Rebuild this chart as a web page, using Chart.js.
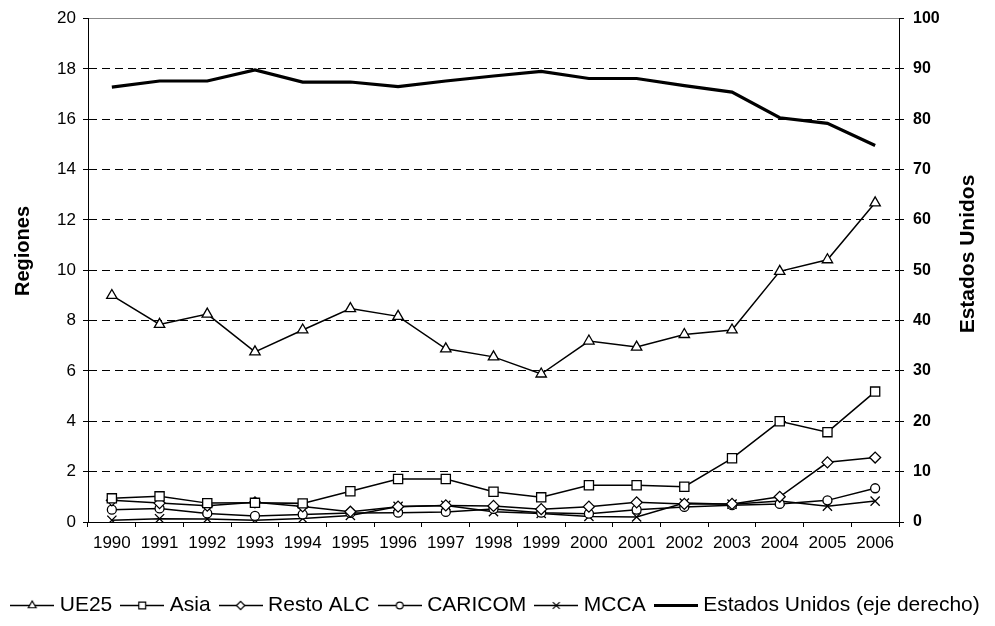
<!DOCTYPE html>
<html>
<head>
<meta charset="utf-8">
<script src="https://cdn.jsdelivr.net/npm/chart.js@4.4.1/dist/chart.umd.min.js"></script>
<style>
  html, body { margin: 0; padding: 0; background: #fff; }
  #wrap { width: 995px; height: 626px; }
</style>
</head>
<body>
<div id="wrap"><canvas id="grafico"></canvas></div>
<script>
// datos
const anios = ['1990', '1991', '1992', '1993', '1994', '1995', '1996', '1997', '1998',
               '1999', '2000', '2001', '2002', '2003', '2004', '2005', '2006'];
const ue25 = [9.0, 7.85, 8.26, 6.76, 7.63, 8.48, 8.17, 6.88, 6.56, 5.88, 7.19, 6.95, 7.45, 7.63, 9.96, 10.42, 12.68];
const asia = [0.94, 1.02, 0.75, 0.76, 0.74, 1.22, 1.71, 1.71, 1.2, 0.98, 1.46, 1.46, 1.4, 2.53, 4.0, 3.57, 5.18];
const restoALC = [0.86, 0.75, 0.65, 0.78, 0.62, 0.41, 0.61, 0.66, 0.64, 0.51, 0.61, 0.78, 0.72, 0.72, 1.0, 2.37, 2.56];
const caricom = [0.49, 0.54, 0.34, 0.24, 0.3, 0.36, 0.37, 0.4, 0.52, 0.37, 0.33, 0.49, 0.6, 0.67, 0.72, 0.86, 1.34];
const mcca = [0.07, 0.13, 0.12, 0.07, 0.14, 0.26, 0.62, 0.66, 0.41, 0.34, 0.22, 0.2, 0.75, 0.71, 0.83, 0.63, 0.83];
const estadosUnidos = [86.4, 87.6, 87.6, 89.8, 87.4, 87.4, 86.5, 87.6, 88.6, 89.5, 88.1, 88.1, 86.7, 85.4, 80.3, 79.2, 74.8];

const tituloIzq = 'Regiones';
const tituloDer = 'Estados Unidos';

Chart.defaults.font.family = '"Liberation Sans", Arial, sans-serif';
Chart.defaults.color = '#000';

// icono de leyenda: linea con marcador
function iconoLeyenda(estilo, radio, grosor) {
    const c = document.createElement('canvas');
    c.width = 44;
    c.height = 17;
    const ctx = c.getContext('2d');
    ctx.strokeStyle = '#000';
    ctx.lineWidth = grosor;
    ctx.beginPath();
    ctx.moveTo(0, 8.5);
    ctx.lineTo(44, 8.5);
    ctx.stroke();
    if (estilo) {
        ctx.fillStyle = '#fff';
        ctx.lineWidth = 1.2;
        Chart.helpers.drawPoint(ctx, { pointStyle: estilo, radius: radio, rotation: 0, borderWidth: 1.2 }, 22, 8.5);
    }
    return c;
}

function serie(label, data, estilo, radio) {
    return {
        label: label,
        data: data,
        yAxisID: 'y',
        borderColor: '#000',
        borderWidth: 1.5,
        backgroundColor: '#fff',
        pointStyle: estilo,
        pointRadius: radio,
        pointBorderWidth: 1.3,
        pointBorderColor: '#000',
        pointBackgroundColor: '#fff',
        tension: 0,
        legendIcon: iconoLeyenda(estilo, radio * 0.75, 1.3)
    };
}

const datasets = [
    serie('UE25', ue25, 'triangle', 6),
    serie('Asia', asia, 'rect', 6.5),
    serie('Resto ALC', restoALC, 'rectRot', 5.5),
    serie('CARICOM', caricom, 'circle', 4.5),
    serie('MCCA', mcca, 'crossRot', 6.5),
    {
        label: 'Estados Unidos (eje derecho)',
        data: estadosUnidos,
        yAxisID: 'y1',
        borderColor: '#000',
        borderWidth: 3.2,
        pointRadius: 0,
        tension: 0,
        legendIcon: iconoLeyenda(null, 0, 3.2)
    }
];

// titulos de ejes leidos de abajo hacia arriba
const titulosEjes = {
    id: 'titulosEjes',
    afterDraw(chart) {
        const ctx = chart.ctx;
        ctx.save();
        ctx.fillStyle = '#000';
        ctx.font = 'bold 20px "Liberation Sans", Arial, sans-serif';
        ctx.textAlign = 'center';
        ctx.textBaseline = 'middle';
        ctx.translate(23, 251);
        ctx.rotate(-Math.PI / 2);
        ctx.fillText(tituloIzq, 0, 0);
        ctx.restore();

        ctx.save();
        ctx.fillStyle = '#000';
        ctx.font = 'bold 21px "Liberation Sans", Arial, sans-serif';
        ctx.textAlign = 'center';
        ctx.textBaseline = 'middle';
        ctx.translate(968, 254);
        ctx.rotate(-Math.PI / 2);
        ctx.fillText(tituloDer, 0, 0);
        ctx.restore();
    }
};

new Chart(document.getElementById('grafico'), {
    type: 'line',
    data: { labels: anios, datasets: datasets },
    plugins: [titulosEjes],
    options: {
        responsive: true,
        maintainAspectRatio: false,
        animation: false,
        layout: { padding: { top: 16, left: 0, right: 0, bottom: 0 } },
        plugins: {
            tooltip: { enabled: false },
            legend: {
                position: 'bottom',
                labels: {
                    usePointStyle: true,
                    pointStyleWidth: 34,
                    padding: 13,
                    font: { size: 21 },
                    generateLabels(chart) {
                        return chart.data.datasets.map((ds, i) => ({
                            text: ds.label,
                            pointStyle: ds.legendIcon,
                            fillStyle: '#fff',
                            strokeStyle: '#000',
                            lineWidth: 0,
                            fontColor: '#000',
                            hidden: false,
                            datasetIndex: i
                        }));
                    }
                }
            }
        },
        scales: {
            x: {
                offset: true,
                grid: { offset: true, drawOnChartArea: false, drawTicks: true, tickLength: 5, color: '#000' },
                border: { display: true, color: '#000', width: 1 },
                ticks: { font: { size: 17 }, padding: 6, maxRotation: 0, autoSkip: false },
                afterFit(scale) { scale.height = 60; }
            },
            y: {
                position: 'left',
                min: 0,
                max: 20,
                ticks: { stepSize: 2, font: { size: 17 }, padding: 7 },
                grid: {
                    color: (c) => c.tick && c.tick.value === 20 ? '#888' : '#000',
                    lineWidth: 1,
                    tickLength: 5,
                    tickColor: '#000'
                },
                border: {
                    display: true,
                    color: '#000',
                    width: 1,
                    dash: (c) => c.tick && c.tick.value > 0 && c.tick.value < 20 ? [8, 5] : []
                },
                afterFit(scale) { scale.width = 88; }
            },
            y1: {
                position: 'right',
                min: 0,
                max: 100,
                ticks: { stepSize: 10, font: { size: 16, weight: 'bold' }, padding: 9 },
                grid: { drawOnChartArea: false, tickLength: 5, color: '#000' },
                border: { display: true, color: '#000', width: 1 },
                afterFit(scale) { scale.width = 96; }
            }
        }
    }
});
</script>
</body>
</html>
